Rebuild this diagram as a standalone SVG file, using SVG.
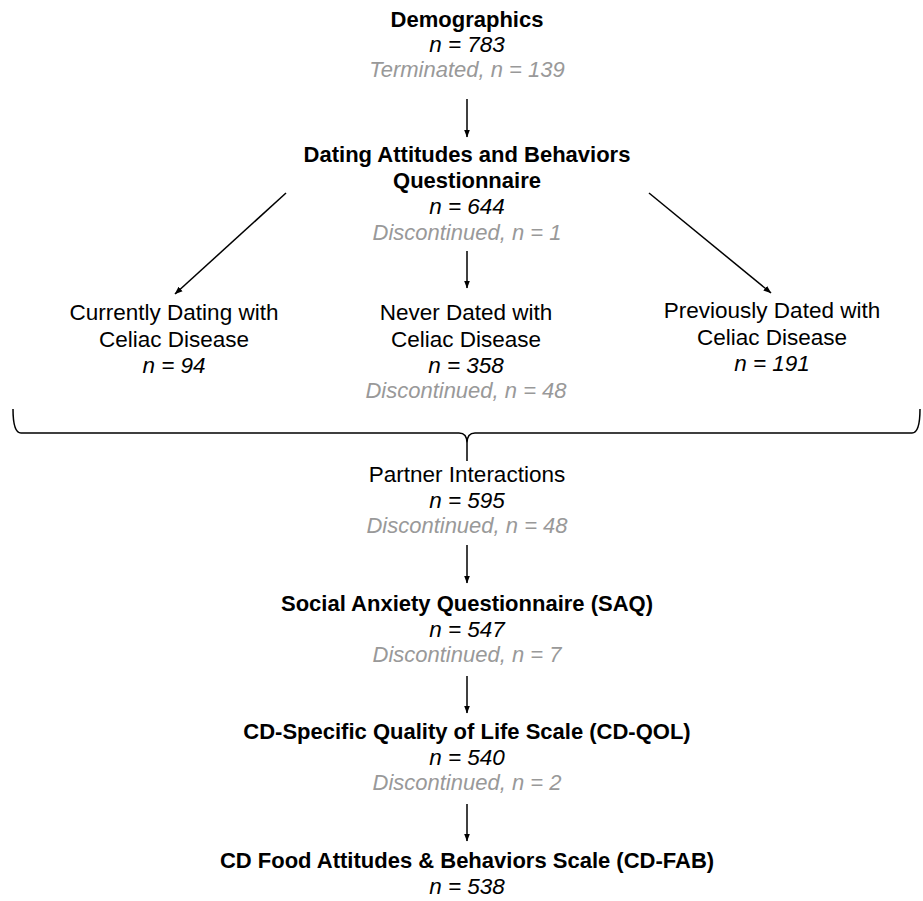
<svg xmlns="http://www.w3.org/2000/svg" width="923" height="901" viewBox="0 0 923 901">
<style>
text{font-family:"Liberation Sans",Arial,Helvetica,sans-serif;text-anchor:middle;fill:#000}
.t{font-size:22px;font-weight:bold}
.r{font-size:22.5px}
.n{font-size:22.5px;font-style:italic}
.g{font-size:22px;font-style:italic;fill:#999}
.c{stroke:#000;stroke-width:1.5;fill:none}
</style>
<defs>
<marker id="ah" markerUnits="userSpaceOnUse" markerWidth="8" markerHeight="8" viewBox="0 0 8 8" refX="7.5" refY="4" orient="auto">
<path d="M0,1 L8,4 L0,7 Z" fill="#000"/>
</marker>
</defs>
<rect width="923" height="901" fill="#fff"/>
<g id="demographics">
<text class="t" x="467" y="27">Demographics</text>
<text class="n" x="467" y="52">n = 783</text>
<text class="g" x="467" y="77">Terminated, n = 139</text>
</g>
<g id="dating">
<text class="t" x="467" y="162">Dating Attitudes and Behaviors</text>
<text class="t" x="467" y="188">Questionnaire</text>
<text class="n" x="467" y="214">n = 644</text>
<text class="g" x="467" y="240">Discontinued, n = 1</text>
</g>
<g id="current">
<text class="r" x="174" y="320">Currently Dating with</text>
<text class="r" x="174" y="347">Celiac Disease</text>
<text class="n" x="174" y="373">n = 94</text>
</g>
<g id="never">
<text class="r" x="466" y="320">Never Dated with</text>
<text class="r" x="466" y="347">Celiac Disease</text>
<text class="n" x="466" y="373">n = 358</text>
</g>
<g id="previous">
<text class="r" x="772" y="318">Previously Dated with</text>
<text class="r" x="772" y="345">Celiac Disease</text>
<text class="n" x="772" y="371">n = 191</text>
</g>
<g id="brace-label">
<text class="g" x="466" y="398">Discontinued, n = 48</text>
</g>
<g id="partner">
<text class="r" x="467" y="482">Partner Interactions</text>
<text class="n" x="467" y="508">n = 595</text>
<text class="g" x="467" y="533">Discontinued, n = 48</text>
</g>
<g id="saq">
<text class="t" x="467" y="611">Social Anxiety Questionnaire (SAQ)</text>
<text class="n" x="467" y="637">n = 547</text>
<text class="g" x="467" y="662">Discontinued, n = 7</text>
</g>
<g id="cdqol">
<text class="t" x="467" y="739">CD-Specific Quality of Life Scale (CD-QOL)</text>
<text class="n" x="467" y="765">n = 540</text>
<text class="g" x="467" y="790">Discontinued, n = 2</text>
</g>
<g id="cdfab">
<text class="t" x="467" y="868">CD Food Attitudes &amp; Behaviors Scale (CD-FAB)</text>
<text class="n" x="467" y="894">n = 538</text>
</g>
<g id="connectors">
<line class="c" x1="467" y1="99" x2="467" y2="137" marker-end="url(#ah)"/>
<line class="c" x1="286" y1="193" x2="175" y2="294" marker-end="url(#ah)"/>
<line class="c" x1="467" y1="251" x2="467" y2="288" marker-end="url(#ah)"/>
<line class="c" x1="649" y1="193" x2="771" y2="293" marker-end="url(#ah)"/>
<path class="c" stroke-width="2" d="M13,409 Q13,433 21,433 L459,433 Q467,433 467,443 L467,461 M467,443 Q467,433 475,433 L912,433 Q920,433 920,409"/>
<line class="c" x1="467" y1="545" x2="467" y2="583" marker-end="url(#ah)"/>
<line class="c" x1="467" y1="676" x2="467" y2="713" marker-end="url(#ah)"/>
<line class="c" x1="467" y1="804" x2="467" y2="841" marker-end="url(#ah)"/>
</g>
</svg>
